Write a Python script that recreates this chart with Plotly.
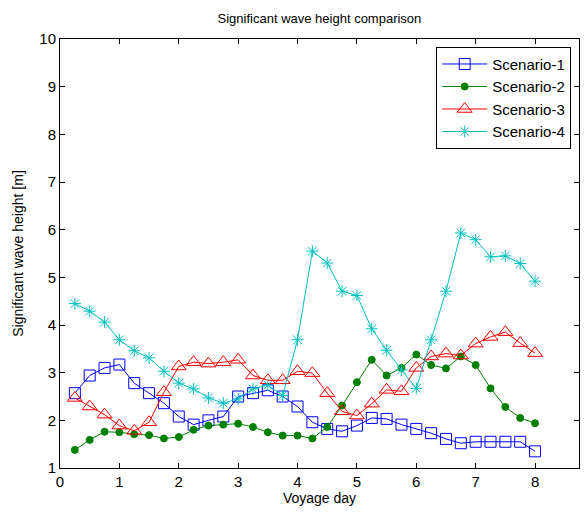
import plotly.graph_objects as go

days = [0.25, 0.5, 0.75, 1.0, 1.25, 1.5, 1.75, 2.0, 2.25, 2.5, 2.75, 3.0, 3.25, 3.5, 3.75, 4.0,
        4.25, 4.5, 4.75, 5.0, 5.25, 5.5, 5.75, 6.0, 6.25, 6.5, 6.75, 7.0, 7.25, 7.5, 7.75, 8.0]

scenario1 = [2.57, 2.94, 3.10, 3.17, 2.78, 2.57, 2.36, 2.08, 1.91, 2.00, 2.08, 2.50, 2.57, 2.63, 2.50, 2.29,
             1.96, 1.82, 1.77, 1.89, 2.05, 2.03, 1.91, 1.82, 1.73, 1.61, 1.52, 1.55, 1.55, 1.55, 1.55, 1.35]
scenario2 = [1.38, 1.59, 1.76, 1.75, 1.71, 1.69, 1.62, 1.65, 1.80, 1.89, 1.91, 1.93, 1.86, 1.75, 1.68, 1.68,
             1.62, 1.86, 2.31, 2.80, 3.27, 2.94, 3.10, 3.38, 3.16, 3.09, 3.34, 3.16, 2.67, 2.28, 2.05, 1.94]
scenario3 = [2.47, 2.29, 2.12, 1.89, 1.78, 1.96, 2.59, 3.13, 3.22, 3.19, 3.22, 3.27, 2.94, 2.84, 2.84, 3.03,
             2.99, 2.57, 2.19, 2.10, 2.35, 2.64, 2.61, 3.10, 3.34, 3.40, 3.36, 3.61, 3.75, 3.85, 3.62, 3.41]
scenario4 = [4.45, 4.29, 4.06, 3.69, 3.46, 3.31, 3.03, 2.78, 2.66, 2.47, 2.36, 2.45, 2.66, 2.74, 2.52, 3.69,
             5.55, 5.30, 4.71, 4.62, 3.92, 3.47, 3.06, 2.67, 3.69, 4.71, 5.93, 5.79, 5.43, 5.45, 5.29, 4.92]

names = ["Scenario-1", "Scenario-2", "Scenario-3", "Scenario-4"]
colors = ["#0000ff", "#008000", "#ff0000", "#00bfbf"]
symbols = ["square-open", "circle", "triangle-up-open", "asterisk-open"]
sizes = [11, 7, 13, 10]
series = [scenario1, scenario2, scenario3, scenario4]

fig = go.Figure()
for name, col, sym, sz, ys in zip(names, colors, symbols, sizes, series):
    fig.add_trace(go.Scatter(
        x=days, y=ys, name=name, mode="lines+markers",
        line=dict(color=col, width=1),
        marker=dict(symbol=sym, size=sz, color=col, line=dict(color=col, width=1)),
    ))

axis_common = dict(
    showgrid=False, zeroline=False, showline=True, linecolor="black", linewidth=1,
    mirror="ticks", ticks="inside", ticklen=5, tickcolor="black", automargin=False,
    tickfont=dict(family="Arial", size=15, color="black"),
)

fig.update_layout(
    width=584, height=514,
    margin=dict(l=60, r=5, t=39, b=46),
    paper_bgcolor="white", plot_bgcolor="white",
    font=dict(family="Arial", color="black"),
    title=dict(text="Significant wave height comparison", x=0.547, xanchor="center",
               y=0.965, yanchor="middle", font=dict(family="Arial", size=13, color="black")),
    xaxis=dict(range=[0, 8.74], tickvals=[0, 1, 2, 3, 4, 5, 6, 7, 8],
               title=dict(text="Voyage day", font=dict(family="Arial", size=14), standoff=4),
               **axis_common),
    yaxis=dict(range=[1, 10], tickvals=[1, 2, 3, 4, 5, 6, 7, 8, 9, 10],
               title=dict(text="Significant wave height [m]", font=dict(family="Arial", size=14), standoff=12),
               **axis_common),
    legend=dict(x=0.985, y=0.982, xanchor="right", yanchor="top",
                bgcolor="white", bordercolor="black", borderwidth=1,
                font=dict(family="Arial", size=15, color="black"),
                tracegroupgap=0, itemwidth=45),
    showlegend=True,
)

fig.write_html("out.html", config={"displayModeBar": False},
               post_script="document.body.style.margin='0';")
